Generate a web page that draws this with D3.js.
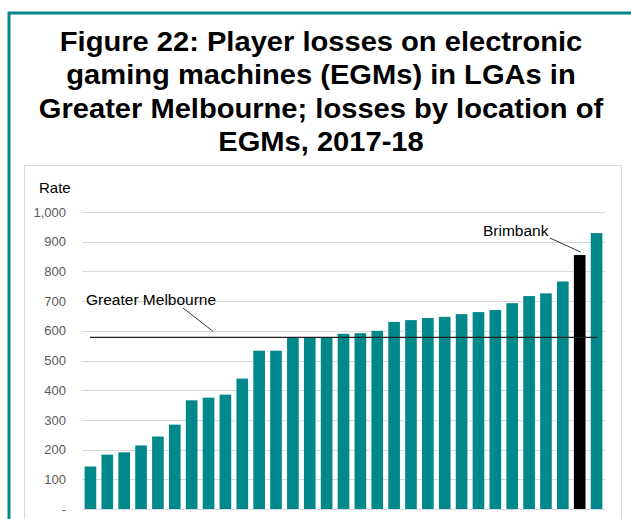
<!DOCTYPE html>
<html>
<head>
<meta charset="utf-8">
<script src="https://cdn.jsdelivr.net/npm/d3@7/dist/d3.min.js"></script>
<style>
  body { margin: 0; background: #fff; }
  svg { display: block; font-family: Arial, "Liberation Sans", sans-serif; }
</style>
</head>
<body>
<div id="chart"></div>
<script>
"use strict";

// LGA loss rates, sorted ascending (31 LGAs)
var lgaIndex = d3.range(1, 32);
var lossRates = [143, 183, 191, 214, 244, 284, 366, 375, 385, 439, 533, 533, 578, 578,
  579, 590, 592, 600, 630, 636, 643, 647, 656, 663, 670, 693, 717, 726, 766, 855, 929];
var highlightIndex = 29; // Brimbank
var metroAverage = 578;
var yTicks = [0, 100, 200, 300, 400, 500, 600, 700, 800, 900, 1000];
var titleLines = [
  "Figure 22: Player losses on electronic",
  "gaming machines (EGMs) in LGAs in",
  "Greater Melbourne; losses by location of",
  "EGMs, 2017-18"
];

var width = 631, height = 519;
var teal = "#00888A";

var svg = d3.select("#chart").append("svg")
  .attr("width", width)
  .attr("height", height);

// outer teal frame
svg.append("path")
  .attr("d", "M9,519 V13 H631")
  .attr("fill", "none")
  .attr("stroke", teal)
  .attr("stroke-width", 3);

// title (slightly widened like the source image)
svg.append("g")
  .attr("transform", "translate(321,0) scale(1.04,1)")
  .selectAll("text")
  .data(titleLines)
  .join("text")
  .attr("x", 0)
  .attr("y", function (d, i) { return 51 + i * 33.3; })
  .attr("text-anchor", "middle")
  .attr("font-size", 28)
  .attr("font-weight", "bold")
  .attr("fill", "#000")
  .text(function (d) { return d; });

// inner chart panel
svg.append("rect")
  .attr("x", 24.5)
  .attr("y", 165.5)
  .attr("width", 597)
  .attr("height", 400)
  .attr("fill", "#fff")
  .attr("stroke", "#d9d9d9");

// scales
var x = d3.scaleBand()
  .domain(lgaIndex)
  .range([82, 605])
  .paddingInner(0.31)
  .paddingOuter(0.155);

var y = d3.scaleLinear()
  .domain([0, 1000])
  .range([509, 212]);

// gridlines
svg.append("g")
  .selectAll("line")
  .data(yTicks)
  .join("line")
  .attr("x1", 82)
  .attr("x2", 605)
  .attr("y1", function (d) { return Math.round(y(d)) + 0.5; })
  .attr("y2", function (d) { return Math.round(y(d)) + 0.5; })
  .attr("stroke", "#d9d9d9")
  .attr("stroke-width", 1);

// y axis labels
var yAxis = d3.axisLeft(y)
  .tickValues(yTicks)
  .tickSize(0)
  .tickPadding(0)
  .tickFormat(function (d) { return d === 0 ? "-" : d3.format(",")(d); });

var yAxisG = svg.append("g")
  .attr("transform", "translate(66,0)")
  .call(yAxis);
yAxisG.select(".domain").remove();
yAxisG.selectAll("text")
  .attr("font-size", 13)
  .attr("font-family", "Arial, 'Liberation Sans', sans-serif")
  .attr("fill", "#595959");

svg.append("text")
  .attr("x", 39)
  .attr("y", 193)
  .attr("font-size", 15)
  .attr("fill", "#000")
  .text("Rate");

// bars
svg.append("g")
  .selectAll("rect")
  .data(lossRates)
  .join("rect")
  .attr("x", function (d, i) { return x(lgaIndex[i]); })
  .attr("width", x.bandwidth())
  .attr("y", function (d) { return y(d); })
  .attr("height", function (d) { return y(0) - y(d); })
  .attr("fill", function (d, i) { return i === highlightIndex ? "#000" : teal; });

// Greater Melbourne average line
svg.append("line")
  .attr("x1", 90)
  .attr("x2", 597)
  .attr("y1", y(metroAverage))
  .attr("y2", y(metroAverage))
  .attr("stroke", "#222")
  .attr("stroke-width", 1.2);

svg.append("text")
  .attr("x", 86)
  .attr("y", 305)
  .attr("font-size", 15.5)
  .attr("fill", "#000")
  .text("Greater Melbourne");

svg.append("line")
  .attr("x1", 183).attr("y1", 308)
  .attr("x2", 213).attr("y2", y(metroAverage) - 6)
  .attr("stroke", "#000")
  .attr("stroke-width", 0.8);

// Brimbank annotation
var bx = x(lgaIndex[highlightIndex]) + x.bandwidth() / 2;
svg.append("text")
  .attr("x", 483)
  .attr("y", 236)
  .attr("font-size", 15.5)
  .attr("fill", "#000")
  .text("Brimbank");

svg.append("line")
  .attr("x1", 550).attr("y1", 238)
  .attr("x2", bx + 1).attr("y2", y(lossRates[highlightIndex]) - 3)
  .attr("stroke", "#000")
  .attr("stroke-width", 0.8);

// baseline
svg.append("line")
  .attr("x1", 82).attr("x2", 605)
  .attr("y1", y(0) + 0.5).attr("y2", y(0) + 0.5)
  .attr("stroke", "#d9d9d9");
</script>
</body>
</html>
